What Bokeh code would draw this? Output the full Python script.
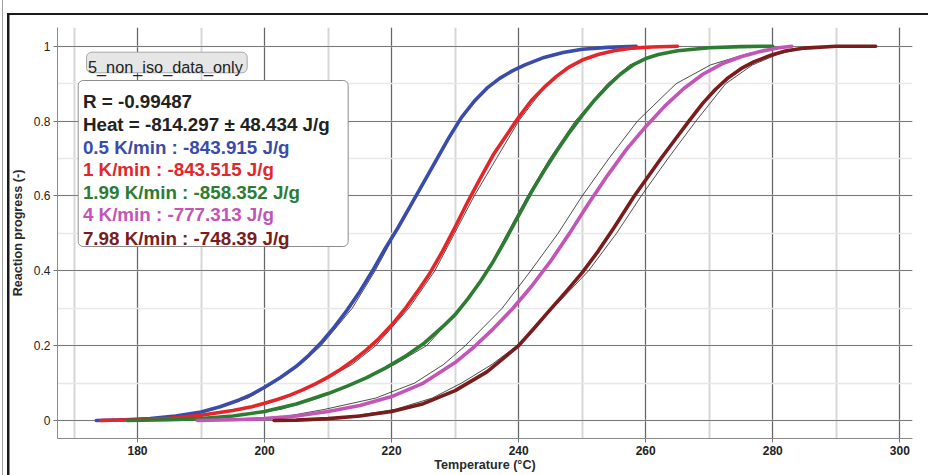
from bokeh.plotting import figure
from bokeh.models import (Range1d, SingleIntervalTicker, BoxAnnotation, Label,
                          CustomJSTickFormatter, InlineStyleSheet)
from bokeh.embed import file_html
from bokeh.resources import INLINE

FONT = "Liberation Sans"

# ---------------- data ----------------
dataset_name = "5_non_iso_data_only"
r_text = "R = -0.99487"
heat_text = "Heat = -814.297 \u00b1 48.434 J/g"
rate_labels = ["0.5 K/min", "1 K/min", "1.99 K/min", "4 K/min", "7.98 K/min"]
rate_heats = ["-843.915", "-843.515", "-858.352", "-777.313", "-748.39"]
colors = ["#3a4cab", "#e4262b", "#2c7c31", "#c255b6", "#7a1c1c"]

x_ticks_interval = 20
y_ticks_interval = 0.2

# measured curves (temperature in degC, reaction progress)
blue_T = [173.5, 178, 182, 186, 190, 193, 196, 198, 200, 202.5, 205, 207, 209, 211, 213, 215, 217,
          219, 221, 223, 225, 227, 229, 231, 233, 235, 237, 239, 241, 244, 247, 250, 254, 258.5]
blue_a = [0, 0.002, 0.005, 0.012, 0.023, 0.037, 0.055, 0.07, 0.089, 0.115, 0.145, 0.175, 0.21,
          0.25, 0.295, 0.345, 0.4, 0.46, 0.515, 0.575, 0.635, 0.695, 0.755, 0.81, 0.853, 0.888,
          0.914, 0.934, 0.95, 0.97, 0.983, 0.992, 0.997, 1.0]

red_T = [174.2, 180, 185, 190, 195, 198, 200, 202, 204, 206, 208, 210, 212, 214, 216, 218, 220,
         222, 224, 226, 228, 230, 232, 234, 236, 238, 240, 242, 244, 246, 248, 250, 252.5, 255,
         258, 261, 265]
red_a = [0, 0.002, 0.006, 0.014, 0.027, 0.037, 0.046, 0.056, 0.068, 0.082, 0.098, 0.116, 0.137,
         0.161, 0.188, 0.219, 0.255, 0.296, 0.343, 0.393, 0.452, 0.517, 0.585, 0.648, 0.71, 0.76,
         0.81, 0.855, 0.89, 0.92, 0.945, 0.963, 0.978, 0.988, 0.995, 0.998, 1.0]

green_T = [178.4, 185, 190, 195, 200, 205, 210, 213, 216, 219, 222, 225, 228, 230, 232, 234, 236,
           238, 240, 242, 244, 246, 248, 250, 252, 254, 256, 258, 260, 262, 265, 270, 275, 280]
green_a = [0, 0.002, 0.005, 0.012, 0.024, 0.044, 0.072, 0.092, 0.114, 0.14, 0.17, 0.205, 0.25,
           0.283, 0.325, 0.372, 0.425, 0.485, 0.548, 0.61, 0.667, 0.72, 0.77, 0.815, 0.857, 0.893,
           0.925, 0.95, 0.967, 0.978, 0.988, 0.996, 0.999, 1.0]

magenta_T = [189.4, 195, 200, 205, 210, 215, 220, 225, 230, 233, 236, 239, 242, 245, 248, 251,
             254, 257, 260, 263, 266, 269, 272, 275, 278, 281, 283]
magenta_a = [0, 0.002, 0.005, 0.012, 0.024, 0.04, 0.064, 0.1, 0.155, 0.197, 0.245, 0.298, 0.358,
             0.425, 0.5, 0.58, 0.655, 0.725, 0.785, 0.84, 0.887, 0.925, 0.953, 0.972, 0.986,
             0.996, 1.0]

darkred_T = [201.5, 205, 210, 215, 220, 225, 230, 235, 240, 242.5, 245, 247.5, 250, 252.5, 255,
             258.2, 260.3, 262.4, 264.6, 266.8, 269, 271, 273, 275, 277, 279.7, 282, 285, 290, 296.2]
darkred_a = [0, 0.001, 0.005, 0.012, 0.024, 0.045, 0.08, 0.13, 0.2, 0.248, 0.297, 0.345, 0.395,
             0.452, 0.515, 0.6, 0.65, 0.7, 0.75, 0.8, 0.848, 0.885, 0.916, 0.94, 0.958, 0.976,
             0.987, 0.995, 1.0, 1.0]

# model (fit) curves: temperature at given reaction progress levels
fit_a = [0, 0.01, 0.03, 0.06, 0.1, 0.15, 0.2, 0.3, 0.4, 0.5, 0.6, 0.7, 0.8, 0.9, 0.95, 0.98, 0.995, 1.0]
blue_fit_T = [173.5, 185.3, 191.9, 197.4, 201.4, 205.7, 208.9, 213.8, 217.4, 220.6, 224.0, 227.3,
              230.5, 235.7, 240.6, 245.6, 251.5, 258.5]
red_fit_T = [174.2, 188.5, 196.5, 203.2, 208.5, 213.8, 217.5, 222.7, 226.8, 229.9, 233.0, 236.5,
             240.0, 244.5, 248.3, 252.5, 257.5, 265]
green_fit_T = [178.4, 194, 202.6, 208.5, 214, 220.5, 225.5, 230.9, 235.1, 238.2, 241.4, 244.9,
               248.9, 254.0, 257.5, 262.5, 269.5, 280]
magenta_fit_T = [189.4, 203, 209.5, 217.5, 223.6, 228.2, 231.6, 237.4, 241.9, 246.2, 250.0, 254.2,
                 258.7, 264.8, 270.2, 276, 280.8, 283]
darkred_fit_T = [201.5, 213.2, 220.6, 226.4, 231, 235.8, 239.7, 245.4, 251, 255.4, 259.3, 263.5,
                 267.9, 272.6, 276.8, 281, 285, 290]

measured = [(blue_T, blue_a), (red_T, red_a), (green_T, green_a),
            (magenta_T, magenta_a), (darkred_T, darkred_a)]
fits = [blue_fit_T, red_fit_T, green_fit_T, magenta_fit_T, darkred_fit_T]

# ---------------- figure ----------------
p = figure(width=928, height=475, output_backend="svg", toolbar_location=None,
           x_range=Range1d(167.4, 302.0), y_range=Range1d(-0.048, 1.05),
           min_border_left=57, min_border_right=16, min_border_top=27, min_border_bottom=37,
           background_fill_color="white", border_fill_color=None)
p.outline_line_color = None

# outer window frame lines drawn as background of the plot element
p.stylesheets = [InlineStyleSheet(css="""
:host {
  background:
    linear-gradient(#1a1a1a, #1a1a1a) 7px 12.5px / 2.5px 462.5px no-repeat,
    linear-gradient(#1a1a1a, #1a1a1a) 7px 12.5px / 921px 2.2px no-repeat,
    linear-gradient(#a0a0a0, #a0a0a0) 2px 0px / 1.3px 475px no-repeat,
    #ffffff;
}
""")]

p.xaxis.ticker = SingleIntervalTicker(interval=x_ticks_interval, num_minor_ticks=2)
p.yaxis.ticker = SingleIntervalTicker(interval=y_ticks_interval, num_minor_ticks=2)
p.xgrid.ticker = p.xaxis.ticker
p.ygrid.ticker = p.yaxis.ticker
p.yaxis.formatter = CustomJSTickFormatter(code="return (Math.round(tick*10)/10).toString();")

for ax in (p.xaxis, p.yaxis):
    ax.minor_tick_line_color = None
    ax.major_tick_in = 0
    ax.major_tick_out = 4
    ax.major_tick_line_color = "#777777"
    ax.axis_line_color = "#8a8a8a"
    ax.major_label_text_font = FONT
    ax.major_label_text_font_size = "12px"
    ax.major_label_text_color = "#222222"
    ax.axis_label_text_font = FONT
    ax.axis_label_text_font_size = "12.6px"
    ax.axis_label_text_font_style = "bold"
    ax.axis_label_text_color = "#2a2a2a"

p.xaxis.major_label_text_font_style = "bold"
p.xaxis.axis_label = "Temperature (\u00b0C)"
p.yaxis.axis_label = "Reaction progress (-)"
p.xaxis.major_label_standoff = 3
p.xaxis.axis_label_standoff = 0
p.yaxis.major_label_standoff = 3
p.yaxis.axis_label_standoff = 6

p.xgrid.grid_line_color = "#666666"
p.xgrid.grid_line_width = 1
p.ygrid.grid_line_color = "#7a7a7a"
p.ygrid.grid_line_width = 1
p.xgrid.minor_grid_line_color = "#d6d6d6"
p.xgrid.minor_grid_line_width = 2
p.ygrid.minor_grid_line_color = "#e8e8e8"
p.ygrid.minor_grid_line_width = 1.5

# fits underneath, measured on top
for fT in fits:
    p.line(fT, fit_a, line_color="#3a3a3a", line_width=0.9)
for (T, a), c in zip(measured, colors):
    p.line(T, a, line_color=c, line_width=3.6, line_join="round", line_cap="round")

# ---------------- annotations ----------------
box_kw = {}
if "border_radius" in BoxAnnotation.properties():
    box_kw["border_radius"] = 5

p.add_layout(BoxAnnotation(left=171.97, right=197.26, top=0.984, bottom=0.929,
                           fill_color="#e6e6e6", fill_alpha=1, line_color="#a8a8a8",
                           line_alpha=1, line_width=1, **box_kw))
p.add_layout(Label(x=172.2, y=0.9458, text=dataset_name, text_font=FONT,
                   text_font_size="16.3px", text_color="#222222", text_baseline="alphabetic"))

p.add_layout(BoxAnnotation(left=170.66, right=213.16, top=0.9084, bottom=0.4649,
                           fill_color="white", fill_alpha=1, line_color="#8c8c8c",
                           line_alpha=1, line_width=1, **box_kw))
lines = [(r_text, "#222222"), (heat_text, "#222222")] + \
        [(f"{lab} : {h} J/g", c) for lab, h, c in zip(rate_labels, rate_heats, colors)]
baselines = [0.853, 0.7908, 0.7302, 0.6698, 0.6092, 0.5496, 0.4871]
for (txt, c), yb in zip(lines, baselines):
    p.add_layout(Label(x=171.4, y=yb, text=txt, text_font=FONT, text_font_size="18.8px",
                       text_font_style="bold", text_color=c, text_baseline="alphabetic"))

open("out.html", "w").write(file_html(p, INLINE))
